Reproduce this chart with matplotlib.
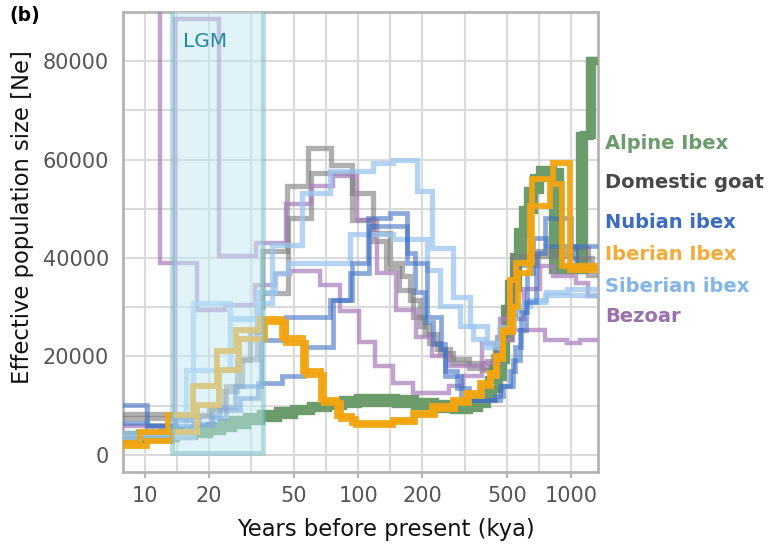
import matplotlib
matplotlib.use("Agg")
import matplotlib.pyplot as plt
from matplotlib.patches import Rectangle
from matplotlib.ticker import FixedLocator, FixedFormatter, NullFormatter

# PSMC trajectories: (kya before present, Ne)
# every value holds until the next time point (step plot)
alpine_1 = [(7.5, 4000), (9.5, 4200), (12, 4500), (14, 4800), (17, 5300), (20, 5800),
            (23, 6400), (26, 7000), (30, 7700), (35, 8300), (42, 8800), (50, 9300),
            (60, 9900), (72, 10500), (85, 11100), (100, 11500), (125, 11600), (150, 11300),
            (185, 10800), (230, 10300), (280, 10100), (330, 10500), (360, 11500), (385, 13000),
            (410, 15200), (430, 17700), (450, 21200), (470, 25200), (490, 29700), (510, 34700),
            (535, 40200), (560, 45200), (590, 49700), (625, 53700), (665, 56300), (710, 57800),
            (820, 37500), (1094, 64800), (1219, 80000)]
alpine_2 = [(7.5, 2900), (9.5, 3100), (12, 3400), (14, 3700), (17, 4300), (20, 4800),
            (23, 5400), (26, 6000), (30, 6800), (35, 7500), (42, 8100), (50, 8800),
            (60, 9500), (72, 10000), (85, 10400), (100, 10600), (125, 10600), (150, 10300),
            (185, 9800), (230, 9300), (280, 9100), (330, 9500), (370, 10300), (400, 11500),
            (430, 13300), (455, 15800), (475, 19300), (495, 23800), (515, 28800), (535, 33800),
            (560, 39300), (590, 44800), (625, 49800), (665, 53800), (710, 56300), (760, 57500),
            (880, 37500), (1150, 65000), (1250, 80000)]

goat_1 = [(7.5, 7500), (13.8, 8000), (20, 9000), (24, 14000), (28.5, 19500), (33.5, 30000),
          (35.3, 41400), (46.2, 54600), (58.2, 62400), (75, 59000), (94, 53300), (118, 45100),
          (141, 39000), (160, 36300), (175, 31500), (194, 26100), (216, 22800), (241, 20700),
          (277, 18700), (380, 17200), (430, 20000), (470, 26000), (505, 33000), (530, 40400),
          (1000, 42100), (1190, 36600)]
goat_2 = [(7.5, 8300), (14.5, 7800), (20.5, 9500), (23.5, 13000), (27, 19300), (31, 25000),
          (34.6, 32900), (46.7, 48200), (60, 57300), (94, 47800), (118, 43500), (135, 38000),
          (155, 33500), (180, 28000), (205, 24500), (235, 21500), (270, 19500), (330, 17600),
          (400, 19000), (450, 24000), (490, 30000), (520, 35500), (560, 38500), (700, 41500),
          (1000, 40000), (1250, 38000)]

nubian_1 = [(7.5, 10200), (10.3, 5800), (17, 6200), (20.5, 8100), (22.5, 9600), (26.5, 13900),
            (35, 23400), (46, 28100), (74, 31500), (94, 39000), (111, 48200), (141, 49200),
            (170, 39000), (210, 28100), (245, 21400), (255, 15900), (305, 11200), (461, 13900),
            (530, 19300), (572, 25400), (610, 31000), (680, 41000), (750, 48200), (1000, 42400)]
nubian_2 = [(7.5, 6500), (10.3, 6000), (14, 7000), (18, 6000), (21, 7500), (24, 9000),
            (28, 11500), (34, 14500), (44, 15900), (56, 22000), (76, 31500), (92, 37000),
            (113, 46500), (170, 41000), (185, 33000), (205, 27000), (225, 22500), (255, 17000),
            (290, 13500), (330, 11200), (440, 11900), (480, 14000), (515, 17000), (545, 22000),
            (580, 29000), (620, 37000), (660, 44000), (760, 42500), (1050, 38500)]

iberian_1 = [(7.5, 2400), (9.5, 4700), (12.8, 8100), (16.8, 13900), (21.7, 21000), (26.9, 25400),
             (34.6, 27500), (44.2, 23700), (55, 17000), (67, 11200), (80, 7800), (94, 6400),
             (145, 7100), (180, 8500), (223, 9800), (277, 11200), (320, 12600), (371, 14600),
             (413, 16700), (445, 20000), (475, 25400), (513, 35600), (550, 39000), (650, 56000),
             (815, 59400), (980, 37600)]
iberian_2 = [(7.5, 1700), (10.3, 2700), (13.4, 4700), (17.5, 10200), (22.4, 17300), (27.8, 23500),
             (36.5, 27000), (46, 22800), (57, 16200), (69, 10600), (83, 7300), (98, 6000),
             (145, 6600), (185, 8000), (230, 9300), (285, 10600), (330, 12000), (380, 14000),
             (420, 16000), (450, 19500), (480, 25000), (530, 30000), (560, 37000), (637, 50500),
             (790, 55000), (900, 38300)]

siberian_1 = [(7.5, 3500), (16.8, 30900), (25, 27800), (33.4, 30900), (39.7, 42700), (54.4, 53300),
              (73.6, 57600), (118, 59400), (145, 60000), (188, 53600), (222, 42100), (277, 32000),
              (333, 26100), (400, 22800), (470, 25500), (540, 30200), (640, 31500), (760, 33000),
              (950, 33600)]
siberian_2 = [(7.5, 4500), (15.6, 17300), (25, 27500), (34, 33000), (41, 37000), (47, 39000),
              (92, 44800), (145, 43800), (210, 37600), (241, 30200), (299, 26100), (345, 23500),
              (391, 22000), (461, 26000), (520, 29500), (600, 31000), (750, 32500)]

bezoar_1 = [(7.5, 150000), (11.8, 39000), (17.5, 29500), (23.7, 30500), (32.8, 34600), (40.6, 36800),
            (48, 37300), (66, 34600), (82, 29200), (101, 23000), (120, 18000), (145, 14600),
            (180, 12600), (268, 13900), (310, 15900), (380, 18700), (461, 23400), (530, 25400),
            (750, 23400), (950, 22700), (1094, 23400)]
bezoar_2 = [(7.5, 5800), (13.8, 88500), (22.4, 40400), (33.3, 43100), (46, 50900), (60.3, 54600),
            (76.3, 56600), (98.3, 47800), (122, 37000), (151, 29500), (187, 24000), (223, 20000),
            (268, 18000), (380, 22800), (461, 27500), (600, 33600), (710, 38300), (820, 36300),
            (1050, 35000), (1200, 32200)]

species_names = ["Alpine Ibex", "Domestic goat", "Nubian ibex", "Iberian Ibex",
                 "Siberian ibex", "Bezoar"]
x_ticks = [10, 20, 50, 100, 200, 500, 1000]
x_grid_extra = [14.14, 31.6, 70.7, 141.4, 316, 707]
y_ticks = [0, 20000, 40000, 60000, 80000]
y_grid = [0, 10000, 20000, 30000, 40000, 50000, 60000, 70000, 80000]
lgm_span = (13.4, 35.8)

# line colour, alpha, width, label colour, label y (axes fraction)
styles = {
    "Alpine Ibex":   ("#6c9c6c", 1.0, 6.0, "#6c9c6c", 0.715),
    "Domestic goat": ("#7a7a7a", 0.6, 3.8, "#474747", 0.630),
    "Nubian ibex":   ("#3f70c4", 0.6, 3.4, "#3c6cbd", 0.543),
    "Iberian Ibex":  ("#f3a50f", 0.95, 4.2, "#f4ab38", 0.472),
    "Siberian ibex": ("#9cc6f0", 0.75, 3.8, "#83b5e6", 0.404),
    "Bezoar":        ("#a97fbb", 0.72, 3.2, "#9a71ad", 0.339),
}
curves = {
    "Alpine Ibex": [alpine_1, alpine_2],
    "Domestic goat": [goat_1, goat_2],
    "Bezoar": [bezoar_1, bezoar_2],
    "Siberian ibex": [siberian_1, siberian_2],
    "Nubian ibex": [nubian_1, nubian_2],
    "Iberian Ibex": [iberian_1, iberian_2],
}

fig = plt.figure(figsize=(7.68, 5.5), dpi=100)
ax = fig.add_axes([0.160, 0.142, 0.619, 0.836])

z = 3
for name in ["Alpine Ibex", "Domestic goat", "Bezoar", "Siberian ibex", "Nubian ibex", "Iberian Ibex"]:
    color, alpha, lw, _, _ = styles[name]
    for curve in curves[name]:
        t = [p[0] for p in curve] + [1400]
        ne = [p[1] for p in curve] + [curve[-1][1]]
        ax.step(t, ne, where="post", color=color, alpha=alpha, lw=lw, zorder=z,
                solid_joinstyle="miter", solid_capstyle="butt")
        z += 0.1

# LGM shading, drawn over the curves as in the original
ax.add_patch(Rectangle((lgm_span[0], 300), lgm_span[1] - lgm_span[0], 95000,
                       facecolor="#c1e9f5", edgecolor="#79bcc0", lw=3.5, alpha=0.5, zorder=10))
ax.text(19.2, 84000, "LGM", color="#2487a0", fontsize=14.5, ha="center", va="center", zorder=11)

ax.set_xscale("log")
ax.set_xlim(7.9, 1335)
ax.set_ylim(-3500, 90000)

ax.xaxis.set_major_locator(FixedLocator(x_ticks))
ax.xaxis.set_major_formatter(FixedFormatter([str(v) for v in x_ticks]))
ax.xaxis.set_minor_locator(FixedLocator(x_grid_extra))
ax.xaxis.set_minor_formatter(NullFormatter())
ax.yaxis.set_major_locator(FixedLocator(y_ticks))
ax.yaxis.set_major_formatter(FixedFormatter([str(v) for v in y_ticks]))
ax.yaxis.set_minor_locator(FixedLocator(y_grid))

ax.grid(True, which="both", color="#dadada", lw=1.5, zorder=0)
ax.set_axisbelow(True)
ax.tick_params(axis="x", which="major", length=4, width=1.5, color="#b4b4b4",
               labelsize=15, labelcolor="#555555", pad=6)
ax.tick_params(axis="x", which="minor", length=0)
ax.tick_params(axis="y", which="both", length=0, labelsize=15, labelcolor="#555555", pad=10)
for sp in ax.spines.values():
    sp.set_color("#b4b4b4")
    sp.set_linewidth(2)

ax.set_xlabel("Years before present (kya)", fontsize=16.3, color="#111111")
ax.xaxis.set_label_coords(0.554, -0.10)
ax.set_ylabel("Effective population size [Ne]", fontsize=16.3, color="#111111")
ax.yaxis.set_label_coords(-0.188, 0.554)

for name in species_names:
    _, _, _, tcolor, ty = styles[name]
    ax.text(1.015, ty, name, transform=ax.transAxes, color=tcolor, fontsize=14,
            fontweight="bold", ha="left", va="center", clip_on=False)

fig.text(0.012, 0.99, "(b)", fontsize=13.5, fontweight="bold", ha="left", va="top")

fig.savefig("out.png", dpi=100)
